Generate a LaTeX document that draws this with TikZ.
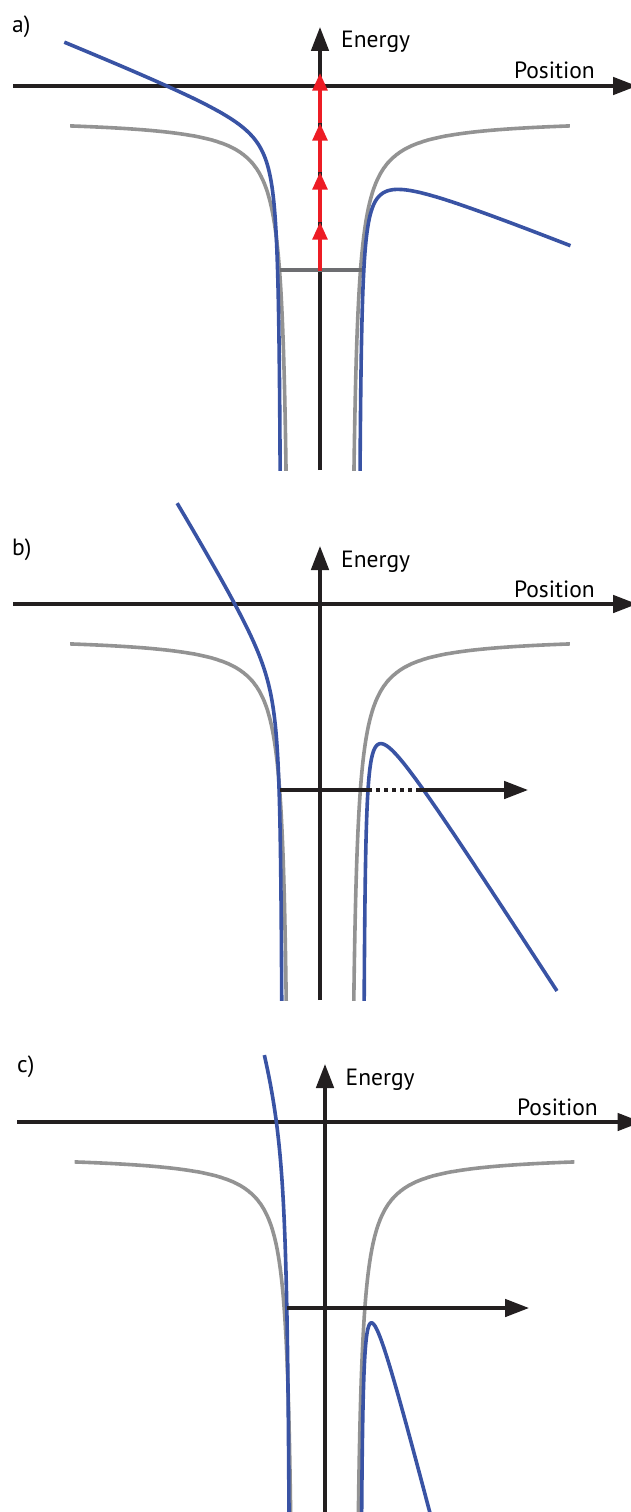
\documentclass[tikz,border=0pt]{standalone}
\usepackage{fontspec}
\setmainfont{PT Sans}
\usetikzlibrary{arrows.meta}

\definecolor{axisblack}{RGB}{35,31,32}
\definecolor{wellgray}{RGB}{147,147,147}
\definecolor{levelgray}{RGB}{109,110,113}
\definecolor{fieldblue}{RGB}{57,83,164}
\definecolor{pulsered}{RGB}{237,28,36}

\begin{document}
\begin{tikzpicture}[x=1pt,y=-1pt,
  axis/.style={line width=3.3pt, axisblack},
  axisarrow/.style={axis, -{Triangle[length=24pt,width=17.5pt]}},
  wellline/.style={line width=3.6pt, wellgray},
  fieldline/.style={line width=3.6pt, fieldblue},
  levelline/.style={line width=3.3pt, levelgray},
  redarrow/.style={line width=3.6pt, pulsered, -{Triangle[length=17.5pt,width=14.6pt]}},
  tunnel/.style={axis, dash pattern=on 4pt off 4pt},
  lbl/.style={inner sep=0pt, font=\fontsize{23.5}{26}\selectfont}]
\useasboundingbox (0,0) rectangle (631,1512);

% a) weak field, multiphoton
\begin{scope}
\draw[axisarrow] (13,86) -- (637,86);
\begin{scope}
\clip (0,-40) rectangle (631,470);
\draw[wellline] plot[domain=1.46:5.40, samples=150, variable=\t] ({320-(29+exp(\t))},{118+1750*exp(-\t)});
\draw[wellline] plot[domain=1.46:5.40, samples=150, variable=\t] ({320+(29+exp(\t))},{118+1750*exp(-\t)});
\draw[fieldline] plot[domain=0.47:5.384, samples=200, variable=\t] ({320-(38+exp(\t))},{142+643*exp(-\t)-0.402*(38+exp(\t))});
\draw[fieldline] plot[domain=0.47:5.361, samples=200, variable=\t] ({320+(38+exp(\t))},{142+643*exp(-\t)+0.402*(38+exp(\t))});
\end{scope}
\draw[axisarrow] (320,470) -- (320,27);
\draw[levelline] (280,270) -- (362,270);
\draw[redarrow] (320,271) -- (320,222);
\draw[redarrow] (320,222) -- (320,172);
\draw[redarrow] (320,172) -- (320,123);
\draw[redarrow] (320,123) -- (320,73);
\node[lbl, anchor=base west] (labela) at (12,33) {a)};
\node[lbl, anchor=base west] (energya) at (341,48) {Energy};
\node[lbl, anchor=base east] (positiona) at (595,78) {Position};
\end{scope}

% b) tunnelling
\begin{scope}[shift={(0,518)}]
\draw[axisarrow] (13,86) -- (637,86);
\begin{scope}
\clip (0,-40) rectangle (631,482);
\draw[wellline] plot[domain=1.46:5.40, samples=150, variable=\t] ({320-(29+exp(\t))},{118+1750*exp(-\t)});
\draw[wellline] plot[domain=1.46:5.40, samples=150, variable=\t] ({320+(29+exp(\t))},{118+1750*exp(-\t)});
\draw[fieldline] plot[domain=0.262:4.666, samples=200, variable=\t] ({320-(36.7+exp(\t))},{216+520*exp(-\t)-1.65*(36.7+exp(\t))});
\draw[fieldline] plot[domain=0.336:5.272, samples=200, variable=\t] ({320+(42.5+exp(\t))},{103+520*exp(-\t)+1.55*(42.5+exp(\t))});
\end{scope}
\draw[axisarrow] (320,482) -- (320,28);
\coordinate (tunstart) at (279.5,272);
\coordinate (tunin) at (368,272);
\coordinate (tunout) at (420,272);
\coordinate (tunend) at (528,272);
\draw[axis] (tunstart) -- (tunin);
\draw[tunnel] (tunin) -- (tunout);
\draw[axisarrow] (tunout) -- (tunend);
\node[lbl, anchor=base west] (labelb) at (12,37) {b)};
\node[lbl, anchor=base west] (energyb) at (341,49) {Energy};
\node[lbl, anchor=base east] (positionb) at (595,79) {Position};
\end{scope}

% c) over the barrier
\begin{scope}[shift={(4.5,1036)}]
\draw[axisarrow] (12.5,86) -- (637,86);
\begin{scope}
\clip (-10,-40) rectangle (631,476);
\draw[wellline] plot[domain=1.46:5.40, samples=150, variable=\t] ({320-(29+exp(\t))},{118+1750*exp(-\t)});
\draw[wellline] plot[domain=1.46:5.40, samples=150, variable=\t] ({320+(29+exp(\t))},{118+1750*exp(-\t)});
\draw[fieldline] plot[domain=0.788:3.303, samples=200, variable=\t] ({320-(33+exp(\t))},{160.8+1054*exp(-\t)-3*(33+exp(\t))});
\draw[fieldline] plot[domain=0.53:4.263, samples=200, variable=\t] ({320+(35.2+exp(\t))},{58+538*exp(-\t)+3.9*(35.2+exp(\t))});
\end{scope}
\draw[axisarrow] (320.5,476) -- (320.5,28);
\coordinate (overstart) at (282.5,272);
\coordinate (overend) at (524.5,272);
\draw[axisarrow] (overstart) -- (overend);
\node[lbl, anchor=base west] (labelc) at (12.5,36) {c)};
\node[lbl, anchor=base west] (energyc) at (341,49) {Energy};
\node[lbl, anchor=base east] (positionc) at (593.5,79) {Position};
\end{scope}
\end{tikzpicture}
\end{document}
